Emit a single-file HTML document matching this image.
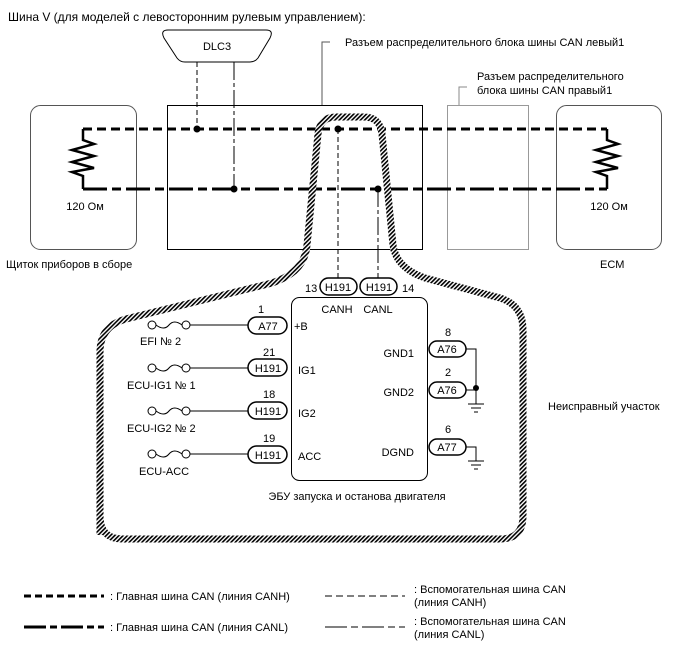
<!DOCTYPE html>
<html><head><meta charset="utf-8"><style>
html,body{margin:0;padding:0;background:#fff}
svg{display:block}
text{font-family:"Liberation Sans",sans-serif;font-size:11px;fill:#000}
</style></head><body>
<svg width="688" height="658" viewBox="0 0 688 658" xmlns="http://www.w3.org/2000/svg">
<defs>
<pattern id="h" width="3" height="3" patternUnits="userSpaceOnUse" patternTransform="rotate(45)">
<rect width="3" height="3" fill="#fff"/><rect width="1.6" height="3" fill="#000"/>
</pattern>
</defs>
<text x="8" y="21" style="font-size:12px">Шина V (для моделей с левосторонним рулевым управлением):</text>

<path d="M168,30 L266,30 Q274,30 270,38 L258,58 Q255,62 250,62 L185,62 Q180,62 177,58 L164,38 Q160,30 168,30 Z" fill="#fff" stroke="#000" stroke-width="1"/>
<text x="217" y="50" text-anchor="middle">DLC3</text>
<line x1="197" y1="62" x2="197" y2="128" stroke="#000" stroke-dasharray="5,3"/>
<line x1="234" y1="62" x2="234" y2="188" stroke="#000" stroke-dasharray="18,3,4,3"/>

<rect x="30.5" y="105.5" width="106" height="144" rx="10" fill="none" stroke="#555"/>
<rect x="167.5" y="105.5" width="255" height="144" fill="none" stroke="#000"/>
<rect x="447.5" y="105.5" width="81" height="144" fill="none" stroke="#999"/>
<rect x="556.5" y="105.5" width="105" height="144" rx="10" fill="none" stroke="#555"/>

<polyline points="322,105 322,42 330,42" fill="none" stroke="#555"/>
<text x="345" y="46">Разъем распределительного блока шины CAN левый1</text>
<polyline points="459,105 459,87 467,87" fill="none" stroke="#888"/>
<text x="477" y="80">Разъем распределительного</text>
<text x="477" y="94">блока шины CAN правый1</text>

<line x1="83" y1="129" x2="607" y2="129" stroke="#000" stroke-width="3" stroke-dasharray="9,5"/>
<line x1="83" y1="189" x2="607" y2="189" stroke="#000" stroke-width="3" stroke-dasharray="24,5,9,5"/>
<polyline points="83,129 83,140 94,144 72,150 94,156 72,162 94,168 72,172 83,176 83,189" fill="none" stroke="#000" stroke-width="2.5"/>
<polyline points="607,129 607,140 618,144 596,150 618,156 596,162 618,168 596,172 607,176 607,189" fill="none" stroke="#000" stroke-width="2.5"/>
<text x="85" y="210" text-anchor="middle">120 Ом</text>
<text x="609" y="210" text-anchor="middle">120 Ом</text>
<text x="6" y="268">Щиток приборов в сборе</text>
<text x="600" y="268">ECM</text>

<path d="M100,535 L100,352 Q100,326 126,319 L272,283 Q305,272 307,245 L318,134 Q320,117 336,117 L364,117 Q380,117 382,134 L393,245 Q396,268 425,278 L500,298 Q523,305 523,330 L523,516 Q523,539 500,539 L123,539 Q100,539 100,516 Z" fill="none" stroke="url(#h)" stroke-width="7"/>

<circle cx="197" cy="129" r="3.5"/><circle cx="338" cy="129" r="3.5"/>
<circle cx="234" cy="189" r="3.5"/><circle cx="378" cy="189" r="3.5"/>

<line x1="338" y1="129" x2="338" y2="278" stroke="#000" stroke-dasharray="5,3"/>
<line x1="378" y1="189" x2="378" y2="278" stroke="#000" stroke-dasharray="18,3,4,3"/>

<rect x="291.5" y="297.5" width="136" height="183" rx="8" fill="#fff" stroke="#000"/>
<g fill="#fff" stroke="#000" stroke-width="1.5">
<rect x="320" y="278" width="37" height="17" rx="8.5"/>
<rect x="360" y="278" width="37" height="17" rx="8.5"/>
<rect x="248" y="317" width="39" height="17" rx="8.5"/>
<rect x="248" y="359" width="39" height="17" rx="8.5"/>
<rect x="248" y="402" width="39" height="17" rx="8.5"/>
<rect x="248" y="446" width="39" height="17" rx="8.5"/>
<rect x="429" y="341" width="37" height="16" rx="8"/>
<rect x="429" y="382" width="37" height="16" rx="8"/>
<rect x="429" y="439" width="37" height="16" rx="8"/>
</g>
<text x="338" y="291" text-anchor="middle">H191</text>
<text x="379" y="291" text-anchor="middle">H191</text>
<text x="305" y="292">13</text><text x="402" y="292">14</text>
<text x="337" y="313" text-anchor="middle">CANH</text>
<text x="378" y="313" text-anchor="middle">CANL</text>

<text x="268" y="330" text-anchor="middle">A77</text>
<text x="268" y="372" text-anchor="middle">H191</text>
<text x="268" y="415" text-anchor="middle">H191</text>
<text x="268" y="459" text-anchor="middle">H191</text>
<text x="258" y="313">1</text><text x="263" y="356">21</text><text x="263" y="398">18</text><text x="263" y="442">19</text>
<text x="294" y="330">+B</text><text x="298" y="374">IG1</text><text x="298" y="417">IG2</text><text x="298" y="460">ACC</text>

<g fill="none" stroke="#000">
<circle cx="152" cy="325" r="4"/><circle cx="186" cy="325" r="4"/><path d="M156,325 Q164,331 169,325 T182,325"/><line x1="190" y1="325" x2="248" y2="325"/>
<circle cx="152" cy="368" r="4"/><circle cx="186" cy="368" r="4"/><path d="M156,368 Q164,374 169,368 T182,368"/><line x1="190" y1="368" x2="248" y2="368"/>
<circle cx="152" cy="411" r="4"/><circle cx="186" cy="411" r="4"/><path d="M156,411 Q164,417 169,411 T182,411"/><line x1="190" y1="411" x2="248" y2="411"/>
<circle cx="152" cy="454" r="4"/><circle cx="186" cy="454" r="4"/><path d="M156,454 Q164,460 169,454 T182,454"/><line x1="190" y1="454" x2="248" y2="454"/>
</g>
<text x="140" y="345">EFI № 2</text>
<text x="127" y="389">ECU-IG1 № 1</text>
<text x="127" y="432">ECU-IG2 № 2</text>
<text x="139" y="475">ECU-ACC</text>

<text x="447" y="353" text-anchor="middle">A76</text>
<text x="447" y="394" text-anchor="middle">A76</text>
<text x="447" y="451" text-anchor="middle">A77</text>
<text x="445" y="336">8</text><text x="445" y="376">2</text><text x="445" y="433">6</text>
<text x="414" y="357" text-anchor="end">GND1</text><text x="414" y="396" text-anchor="end">GND2</text><text x="414" y="456" text-anchor="end">DGND</text>
<g fill="none" stroke="#000">
<polyline points="466,349 476,349 476,404"/><line x1="466" y1="390" x2="476" y2="390"/>
<line x1="468" y1="404" x2="484" y2="404"/><line x1="471" y1="408" x2="481" y2="408"/><line x1="474" y1="412" x2="478" y2="412"/>
<polyline points="466,447 476,447 476,461"/>
<line x1="468" y1="461" x2="484" y2="461"/><line x1="471" y1="465" x2="481" y2="465"/><line x1="474" y1="469" x2="478" y2="469"/>
</g>
<circle cx="476" cy="388" r="3"/>
<text x="357" y="500" text-anchor="middle">ЭБУ запуска и останова двигателя</text>
<text x="548" y="410">Неисправный участок</text>

<line x1="24" y1="596" x2="104" y2="596" stroke="#000" stroke-width="3" stroke-dasharray="7,4"/>
<text x="110" y="600">: Главная шина CAN (линия CANH)</text>
<line x1="325" y1="596" x2="405" y2="596" stroke="#000" stroke-dasharray="7,4"/>
<text x="414" y="593">: Вспомогательная шина CAN</text>
<text x="414" y="606">(линия CANH)</text>
<line x1="24" y1="627" x2="104" y2="627" stroke="#000" stroke-width="3" stroke-dasharray="22,4,7,4"/>
<text x="110" y="631">: Главная шина CAN (линия CANL)</text>
<line x1="325" y1="627" x2="405" y2="627" stroke="#000" stroke-dasharray="22,4,7,4"/>
<text x="414" y="625">: Вспомогательная шина CAN</text>
<text x="414" y="638">(линия CANL)</text>
</svg>
</body></html>
